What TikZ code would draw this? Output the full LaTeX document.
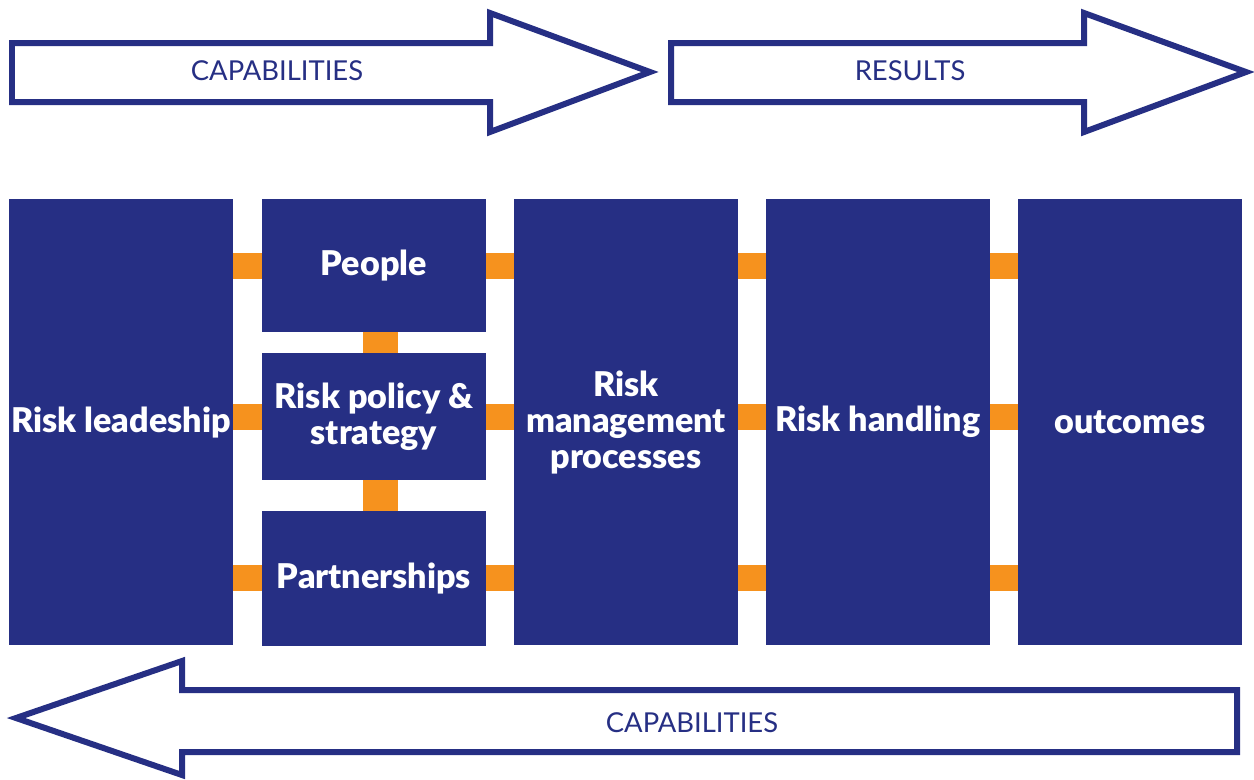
\documentclass[tikz,border=0pt]{standalone}
\usepackage{fontspec}
\setsansfont{Lato}[BoldFont={Lato Black}]
\usepackage{xcolor}
\usepackage{tikz}
\usetikzlibrary{positioning}
\definecolor{navy}{HTML}{262F84}
\definecolor{amber}{HTML}{F6921E}

\begin{document}
\begin{tikzpicture}[node distance=0.42cm and 0.56cm, x=0.02cm, y=-0.02cm,
  col/.style={fill=navy,text=white,minimum width=4.48cm,minimum height=8.92cm,inner sep=0pt,outer sep=0pt,align=center,
    font=\sffamily\bfseries\fontsize{19.4}{20.5}\selectfont},
  cell/.style={col,minimum height=2.66cm},
  link/.style={amber,line width=0.52cm},
  band/.style={navy,line width=0.12cm,fill=white,line join=miter},
  tag/.style={text=navy,font=\sffamily\fontsize{15.6}{18}\selectfont}]
  \useasboundingbox (0,0) rectangle (1254,779);

  \draw[band] (12,43) -- (490,43) -- (490,13) -- (650,72) -- (490,132) -- (490,102) -- (12,102) -- cycle;
  \node[tag] (cap) at (277,71) {CAPABILITIES};
  \draw[band] (671,43) -- (1084,43) -- (1084,13) -- (1246,72) -- (1084,132) -- (1084,102) -- (671,102) -- cycle;
  \node[tag] (res) at (910,71) {RESULTS};
  \draw[band] (16,718) -- (182,661) -- (182,690) -- (1237,690) -- (1237,752) -- (182,752) -- (182,775) -- cycle;
  \node[tag] (back) at (692,723) {CAPABILITIES};

  \node[col] (lead) at (121,422) {Risk leadeship};
  \node[cell, below right=0cm and 0.58cm of lead.north east] (ppl) {People};
  \node[cell, minimum height=2.54cm, below=0.42cm of ppl] (pol) {Risk policy \&\\strategy};
  \node[cell, minimum height=2.7cm, below=0.62cm of pol] (part) {Partnerships};
  \node[col, below right=0cm and 0.56cm of ppl.north east] (proc) {Risk\\management\\processes};
  \node[col, right=of proc] (hand) {Risk handling};
  \node[col, right=of hand] (out) {outcomes};

  \foreach \row in {ppl,pol,part} {
    \draw[link] (lead.east |- \row) -- (\row.west);
    \draw[link] (\row.east) -- (proc.west |- \row);
    \draw[link] (proc.east |- \row) -- (hand.west |- \row);
    \draw[link] (hand.east |- \row) -- (out.west |- \row);
  }
  \draw[link, line width=0.7cm] ([xshift=0.13cm]ppl.south) -- ([xshift=0.13cm]pol.north);
  \draw[link, line width=0.7cm] ([xshift=0.13cm]pol.south) -- ([xshift=0.13cm]part.north);
\end{tikzpicture}
\end{document}
